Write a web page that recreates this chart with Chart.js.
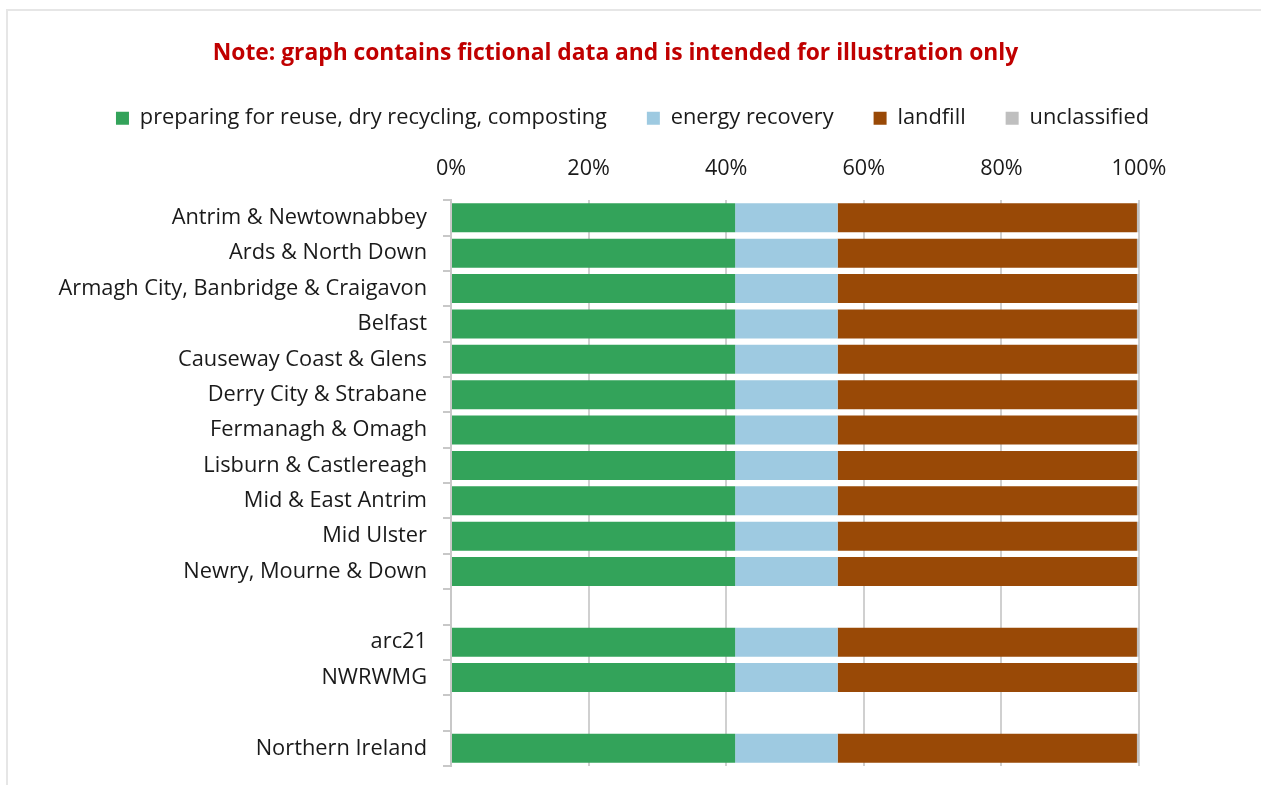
<!DOCTYPE html>
<html>
<head>
<meta charset="utf-8">
<script src="https://cdn.jsdelivr.net/npm/chart.js@4"></script>
<style>
  html, body { margin: 0; padding: 0; background: #fff; }
  #wrap { position: relative; width: 1261px; height: 785px; }
  #frame { position: absolute; left: 6px; top: 9px; right: 0; bottom: 0;
    border-top: 2px solid #e6e6e6; border-left: 2px solid #e6e6e6; }
  #chart { position: absolute; left: 0; top: 0; }
</style>
</head>
<body>
<div id="wrap">
  <div id="frame"></div>
  <canvas id="chart" width="1261" height="785"></canvas>
</div>
<script>
// fictional data, one row per council / waste group, blanks are spacer rows
const areas = ['Antrim & Newtownabbey', 'Ards & North Down', 'Armagh City, Banbridge & Craigavon',
    'Belfast', 'Causeway Coast & Glens', 'Derry City & Strabane', 'Fermanagh & Omagh',
    'Lisburn & Castlereagh', 'Mid & East Antrim', 'Mid Ulster', 'Newry, Mourne & Down',
    '', 'arc21', 'NWRWMG', '', 'Northern Ireland']

const reuseRecycling = [41.3, 41.3, 41.3, 41.3, 41.3, 41.3, 41.3, 41.3, 41.3, 41.3, 41.3, null, 41.3, 41.3, null, 41.3]
const energyRecovery = [14.9, 14.9, 14.9, 14.9, 14.9, 14.9, 14.9, 14.9, 14.9, 14.9, 14.9, null, 14.9, 14.9, null, 14.9]
const landfill = [43.5, 43.5, 43.5, 43.5, 43.5, 43.5, 43.5, 43.5, 43.5, 43.5, 43.5, null, 43.5, 43.5, null, 43.5]
const unclassified = [0.3, 0.3, 0.3, 0.3, 0.3, 0.3, 0.3, 0.3, 0.3, 0.3, 0.3, null, 0.3, 0.3, null, 0.3]

const seriesNames = ['preparing for reuse, dry recycling, composting', 'energy recovery', 'landfill', 'unclassified']
const seriesColours = ['#33a35a', '#9ecae1', '#994906', '#bfbfbf']
const xTicks = [0, 20, 40, 60, 80, 100]

const fontFamily = '"Open Sans", "DejaVu Sans", sans-serif'
Chart.defaults.font.family = fontFamily
Chart.defaults.color = '#1a1a1a'

const seriesValues = [reuseRecycling, energyRecovery, landfill, unclassified]
const datasets = seriesNames.map((name, i) => ({
    label: name,
    data: seriesValues[i],
    backgroundColor: seriesColours[i],
    borderWidth: 0,
    categoryPercentage: 1,
    barPercentage: 0.82
}))

// legend sits a bit right of the title in the original
const legendNudge = {
    id: 'legendNudge',
    afterLayout(chart) {
        chart.legend.left += 17
        chart.legend.right += 17
    }
}

const ctx = document.getElementById('chart').getContext('2d')
new Chart(ctx, {
    type: 'bar',
    data: { labels: areas, datasets },
    plugins: [legendNudge],
    options: {
        indexAxis: 'y',
        responsive: false,
        animation: false,
        layout: { padding: { top: 40, left: 0, right: 30, bottom: 19 } },
        plugins: {
            title: {
                display: true,
                text: 'Note: graph contains fictional data and is intended for illustration only',
                color: '#c00000',
                font: { size: 22.8, weight: 'bold' },
                padding: { top: 0, bottom: 0 }
            },
            legend: {
                display: true,
                labels: {
                    boxWidth: 13,
                    boxHeight: 13,
                    padding: 40,
                    font: { size: 21.8 },
                    color: '#1a1a1a'
                }
            },
            tooltip: { enabled: false }
        },
        scales: {
            x: {
                stacked: true,
                position: 'top',
                min: 0,
                max: 100,
                afterBuildTicks: s => { s.ticks = xTicks.map(v => ({ value: v })) },
                afterFit: s => { s.height = 61 },
                ticks: {
                    callback: v => v + '%',
                    font: { size: 21.6 },
                    color: '#1a1a1a',
                    padding: 18
                },
                grid: { color: '#d0d0d0', lineWidth: 2, drawTicks: false },
                border: { display: false }
            },
            y: {
                stacked: true,
                afterFit: s => {
                    s.width = 451
                    s.paddingTop = 0
                    s.paddingBottom = 0
                },
                ticks: {
                    autoSkip: false,
                    font: { size: 21.8 },
                    color: '#1a1a1a',
                    padding: 16
                },
                grid: { offset: true, drawOnChartArea: false, drawTicks: true, tickLength: 8,
                    color: '#c8c8c8', lineWidth: 2 },
                border: { display: true, color: '#c8c8c8', width: 2 }
            },
            yRight: {
                type: 'category',
                position: 'right',
                afterFit: s => {
                    s.width = 92
                    s.paddingTop = 0
                    s.paddingBottom = 0
                },
                ticks: { display: false },
                grid: { display: false },
                border: { display: false }
            }
        }
    }
})
</script>
</body>
</html>
